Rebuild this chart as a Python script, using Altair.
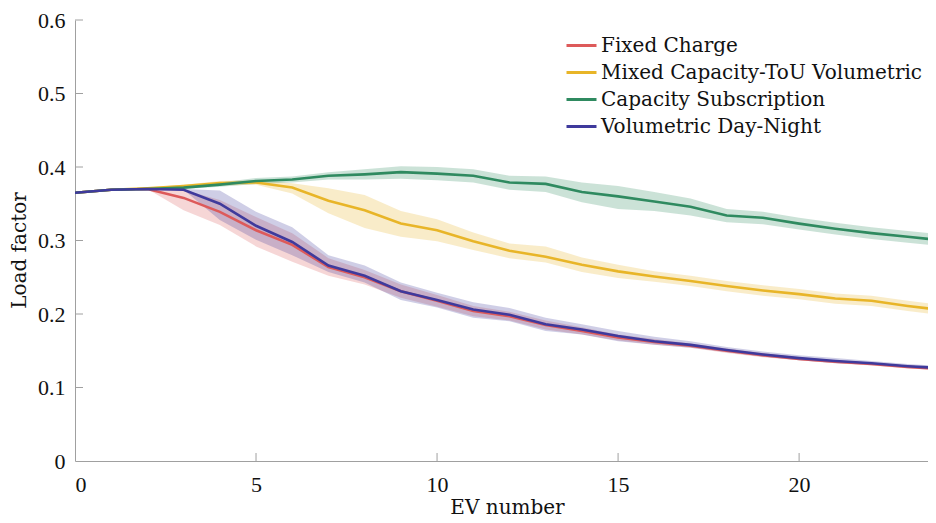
import altair as alt
import pandas as pd

ev = list(range(25))
series_names = ["Fixed Charge", "Mixed Capacity-ToU Volumetric", "Capacity Subscription", "Volumetric Day-Night"]
colors = ["#dd5a5a", "#e8b528", "#2f8a60", "#3f3a9c"]

red = [0.365, 0.369, 0.370, 0.358, 0.339, 0.314, 0.294, 0.264, 0.250, 0.231, 0.218, 0.204, 0.197, 0.185, 0.177, 0.168, 0.162, 0.157, 0.150, 0.144, 0.139, 0.135, 0.132, 0.128, 0.125]
red_lo = [0.365, 0.369, 0.370, 0.341, 0.321, 0.292, 0.271, 0.252, 0.240, 0.222, 0.210, 0.197, 0.191, 0.179, 0.172, 0.164, 0.158, 0.154, 0.147, 0.141, 0.137, 0.133, 0.130, 0.126, 0.123]
red_hi = [0.365, 0.369, 0.370, 0.369, 0.355, 0.332, 0.310, 0.276, 0.260, 0.240, 0.226, 0.211, 0.203, 0.191, 0.182, 0.172, 0.166, 0.160, 0.153, 0.147, 0.141, 0.137, 0.134, 0.130, 0.127]

yellow = [0.365, 0.369, 0.371, 0.374, 0.378, 0.379, 0.372, 0.354, 0.341, 0.323, 0.314, 0.299, 0.286, 0.278, 0.267, 0.258, 0.251, 0.245, 0.238, 0.232, 0.227, 0.221, 0.218, 0.211, 0.205]
yellow_lo = [0.365, 0.369, 0.370, 0.372, 0.375, 0.376, 0.364, 0.337, 0.317, 0.305, 0.299, 0.287, 0.276, 0.270, 0.257, 0.249, 0.244, 0.238, 0.231, 0.225, 0.220, 0.214, 0.211, 0.204, 0.198]
yellow_hi = [0.365, 0.369, 0.372, 0.376, 0.381, 0.382, 0.378, 0.371, 0.362, 0.340, 0.329, 0.311, 0.296, 0.292, 0.277, 0.267, 0.258, 0.252, 0.245, 0.239, 0.234, 0.228, 0.225, 0.218, 0.212]

green = [0.365, 0.369, 0.370, 0.372, 0.376, 0.381, 0.383, 0.388, 0.390, 0.393, 0.391, 0.388, 0.379, 0.377, 0.366, 0.360, 0.353, 0.346, 0.334, 0.331, 0.323, 0.316, 0.310, 0.305, 0.300]
green_lo = [0.365, 0.369, 0.369, 0.370, 0.373, 0.377, 0.379, 0.383, 0.383, 0.384, 0.382, 0.379, 0.369, 0.366, 0.352, 0.343, 0.340, 0.334, 0.325, 0.322, 0.315, 0.308, 0.302, 0.297, 0.292]
green_hi = [0.365, 0.369, 0.371, 0.374, 0.379, 0.385, 0.387, 0.393, 0.397, 0.401, 0.400, 0.397, 0.388, 0.387, 0.379, 0.374, 0.366, 0.357, 0.343, 0.339, 0.331, 0.324, 0.318, 0.313, 0.308]

blue = [0.365, 0.369, 0.370, 0.369, 0.350, 0.320, 0.298, 0.266, 0.252, 0.231, 0.219, 0.206, 0.199, 0.186, 0.179, 0.170, 0.163, 0.158, 0.151, 0.145, 0.140, 0.136, 0.133, 0.129, 0.126]
blue_lo = [0.365, 0.369, 0.370, 0.369, 0.328, 0.301, 0.280, 0.257, 0.243, 0.219, 0.209, 0.195, 0.190, 0.177, 0.172, 0.163, 0.158, 0.154, 0.148, 0.142, 0.137, 0.133, 0.131, 0.127, 0.124]
blue_hi = [0.365, 0.369, 0.370, 0.370, 0.368, 0.339, 0.318, 0.280, 0.266, 0.243, 0.229, 0.216, 0.208, 0.195, 0.186, 0.177, 0.169, 0.163, 0.155, 0.149, 0.144, 0.140, 0.136, 0.132, 0.129]

x_ticks = [0, 5, 10, 15, 20]
y_ticks = [0, 0.1, 0.2, 0.3, 0.4, 0.5, 0.6]

rows = []
for name, m, lo, hi in zip(series_names, [red, yellow, green, blue], [red_lo, yellow_lo, green_lo, blue_lo], [red_hi, yellow_hi, green_hi, blue_hi]):
    for i, x in enumerate(ev):
        rows.append({"ev": x, "series": name, "mean": m[i], "lo": lo[i], "hi": hi[i]})
df = pd.DataFrame(rows)

W, H = 853, 441
TFONT = "DejaVu Serif"
NFONT = "Liberation Serif"
xs = alt.Scale(domain=[0, 23.56], nice=False, zero=False)
ys = alt.Scale(domain=[0, 0.6], nice=False)
cs = alt.Scale(domain=series_names, range=colors)

legend = alt.Legend(orient="none", legendX=490, legendY=9, title=None,
                    symbolType="stroke", symbolSize=900, symbolStrokeWidth=3, symbolOpacity=1,
                    labelFont=TFONT, labelFontSize=20, labelColor="#111",
                    rowPadding=-1, labelOffset=3, labelLimit=400)

base = alt.Chart(df)
bands = base.mark_area(opacity=0.25, clip=True).encode(
    x=alt.X("ev:Q", scale=xs, title="EV number",
            axis=alt.Axis(values=x_ticks, ticks=False, grid=False, domainColor="#a0a0a0", labelPadding=13,
                          titleX=432, titleY=52, titleBaseline="alphabetic")),
    y=alt.Y("lo:Q", scale=ys, title="Load factor",
            axis=alt.Axis(values=y_ticks, ticks=False, grid=False, domainColor="#a0a0a0", labelPadding=10,
                          labelExpr="datum.value == 0 ? '0' : format(datum.value, '.1f')",
                          titleX=-50, titleY=230, titleBaseline="alphabetic")),
    y2="hi:Q",
    color=alt.Color("series:N", scale=cs, legend=legend),
    detail="series:N",
)

line_layers = []
for name in series_names:
    line_layers.append(
        base.transform_filter(alt.datum.series == name).mark_line(strokeWidth=2.6, clip=True).encode(
            x=alt.X("ev:Q", scale=xs),
            y=alt.Y("mean:Q", scale=ys),
            color=alt.Color("series:N", scale=cs, legend=legend),
        )
    )

xt = pd.DataFrame({"v": x_ticks[1:]})
yt = pd.DataFrame({"v": y_ticks[1:]})
xticks = alt.Chart(xt).mark_rule(color="#a0a0a0", strokeWidth=1).encode(
    x=alt.X("v:Q", scale=xs), y=alt.value(H), y2=alt.value(H - 8))
yticks = alt.Chart(yt).mark_rule(color="#a0a0a0", strokeWidth=1).encode(
    y=alt.Y("v:Q", scale=ys), x=alt.value(0), x2=alt.value(8))

chart = alt.layer(bands, *line_layers, xticks, yticks).properties(
    width=W, height=H,
    autosize=alt.AutoSizeParams(type="none"),
    padding={"left": 67, "top": 12, "right": 0, "bottom": 57},
).configure_view(stroke=None).configure_axis(
    labelFont=NFONT, labelFontSize=22, labelColor="#111", titleFont=TFONT, titleFontSize=20,
    titleFontWeight="normal", titleColor="#111"
)

chart.save("out.html", embed_options={"renderer": "svg", "actions": False})
